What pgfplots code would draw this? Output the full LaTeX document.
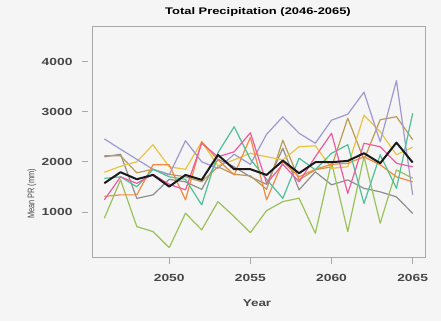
\documentclass[border=0pt]{standalone}
\usepackage{pgfplots}
\usepackage{pgfplotstable}
\pgfplotsset{compat=1.18}
\usepackage{fontspec}
\setmainfont{Liberation Sans}
\usepackage{graphicx}

\definecolor{bgfill}{HTML}{F5F5F5}
\definecolor{framegray}{HTML}{A8A8A8}
\definecolor{labgray}{HTML}{474747}
\definecolor{cteal}{HTML}{4FC09A}
\definecolor{corange}{HTML}{F28A3F}
\definecolor{clav}{HTML}{9E99CF}
\definecolor{cpink}{HTML}{EE5B9E}
\definecolor{cgreen}{HTML}{9BC15A}
\definecolor{cyellow}{HTML}{E8C440}
\definecolor{ctan}{HTML}{BA9B52}
\definecolor{cgray}{HTML}{8F8F8F}
\definecolor{cmean}{HTML}{1A1A1A}

% wide lettering used for every label
\newcommand{\wide}[1]{\scalebox{1.35}[1]{#1}}

% annual total precipitation of each model run, and the ensemble mean
\pgfplotstableread{
year teal orange lav pink green yellow tan gray mean
2046 1670 1310 2457 1240  874 1790 2120 2100 1573
2047 1700 1340 2250 1700 1640 1910 2120 2150 1792
2048 1500 1340 2050 1570  707 2000 1780 1270 1652
2049 1850 1940 1850 1750  607 2340 1850 1340 1738
2050 1700 1940 1740 1550  287 1900 1750 1650 1505
2051 1650 1240 2420 1440  974 1850 1700 1600 1738
2052 1140 2400 2000 2370  641 2400 1600 1450 1639
2053 2180 2040 1870 2100 1206 1920 1900 2050 2138
2054 2700 1740 2150 2200  906 2040 1750 1900 1852
2055 2050 2490 1950 2580  587 2170 1720 1700 1852
2056 1650 1240 2550 1570 1026 2100 1450 1550 1738
2057 1270 2000 2900 1950 1206 2040 2430 2270 2024
2058 2070 1700 2570 1600 1273 2300 1640 1440 1772
2059 1840 1850 2370 2100  574 2320 1840 1800 1992
2060 2170 1950 2830 2570 1990 1870 1900 1540 1992
2061 2340 1970 2950 1370  607 1900 2870 1640 2018
2062 1170 2100 3390 2370 2104 2930 2040 1470 2171
2063 2140 1940 2400 2300  774 2600 2840 1400 1972
2064 1470 1700 3620 1970 1838 2140 2900 1300 2383
2065 2970 1600 1340 1900 1672 2290 2440  970 1985
}\prdata

\begin{document}
\begin{tikzpicture}[x=1bp,y=1bp]
\fill[bgfill] (0,0) rectangle (441,321);
\useasboundingbox (0,0) rectangle (441,321);
\begin{axis}[
  at={(92bp,64bp)}, anchor=south west,
  scale only axis, width=333bp, height=231bp,
  xmin=2045.24, xmax=2065.76, ymin=100, ymax=4710,
  axis background/.style={fill=bgfill},
  axis line style={draw=framegray, line width=0.8pt},
  tick style={draw=framegray, line width=0.8pt},
  tick align=outside, major tick length=6bp,
  xtick={2050,2055,2060,2065},
  xticklabels={\wide{2050},\wide{2055},\wide{2060},\wide{2065}},
  ytick={1000,2000,3000,4000},
  yticklabels={\wide{1000},\wide{2000},\wide{3000},\wide{4000}},
  x tick style={yshift=-1bp},
  y tick style={xshift=-4bp},
  xtick pos=bottom, ytick pos=left,
  ticklabel style={font=\fontsize{10.3}{12}\selectfont\bfseries, text=labgray},
  xticklabel style={yshift=-8bp},
  yticklabel style={xshift=-10bp},
  every axis plot/.append style={line width=1.2bp, line join=round},
]
\addplot[no marks, cgray]   table[x=year, y=gray]   {\prdata};
\addplot[no marks, ctan]    table[x=year, y=tan]    {\prdata};
\addplot[no marks, cgreen]  table[x=year, y=green]  {\prdata};
\addplot[no marks, cyellow] table[x=year, y=yellow] {\prdata};
\addplot[no marks, clav]    table[x=year, y=lav]    {\prdata};
\addplot[no marks, corange] table[x=year, y=orange] {\prdata};
\addplot[no marks, cteal]   table[x=year, y=teal]   {\prdata};
\addplot[no marks, cpink]   table[x=year, y=pink]   {\prdata};
\addplot[no marks, cmean, line width=2bp] table[x=year, y=mean] {\prdata};
\end{axis}
\node[font=\fontsize{9.6}{11}\selectfont\bfseries] at (258,309) {\wide{Total Precipitation (2046-2065)}};
\node[font=\fontsize{10}{12}\selectfont\bfseries, text=labgray] at (257,18) {\wide{Year}};
\node[rotate=90, font=\fontsize{7.4}{9}\selectfont, text=labgray] at (32,127) {\scalebox{1}[1.3]{Mean PR (mm)}};
\end{tikzpicture}
\end{document}
